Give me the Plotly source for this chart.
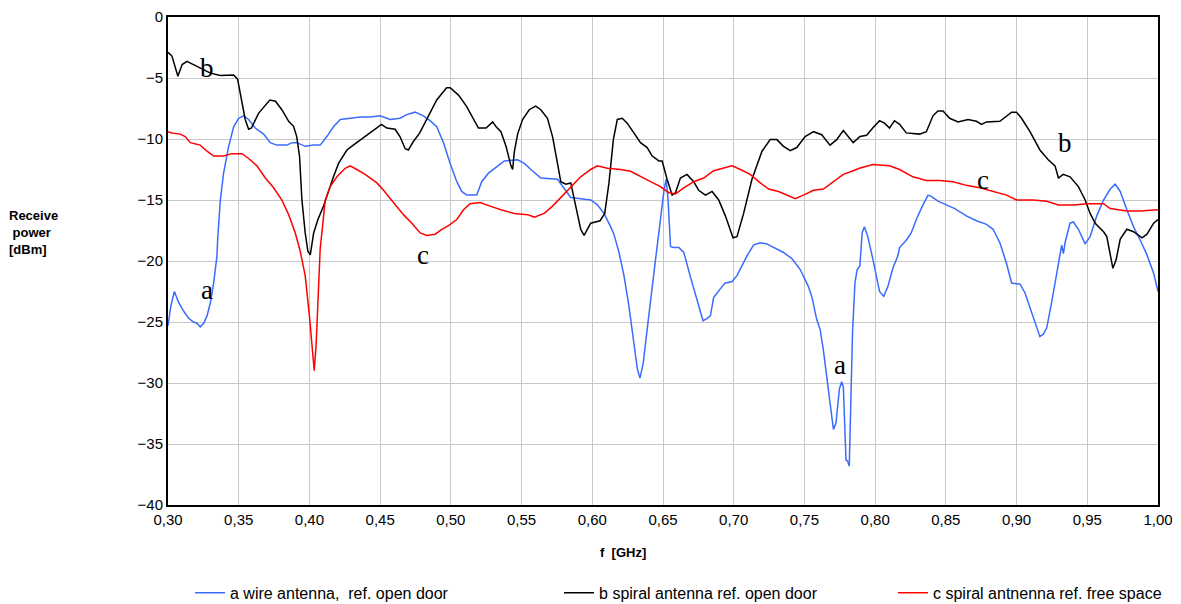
import plotly.graph_objects as go

# ---- data ----
freq_a = [0.300, 0.302, 0.3045, 0.3075, 0.311, 0.3146, 0.318, 0.3205, 0.3228, 0.3252, 0.3276, 0.330, 0.3323,
          0.3346, 0.3351, 0.337, 0.3393, 0.3429, 0.3464, 0.350, 0.3535, 0.357, 0.3617, 0.3676, 0.3723, 0.377,
          0.3841, 0.3876, 0.3911, 0.397, 0.4029, 0.4076, 0.4123, 0.417, 0.4218, 0.4288, 0.4359, 0.443, 0.450,
          0.4571, 0.4641, 0.4688, 0.4747, 0.4806, 0.4853, 0.490, 0.4948, 0.4995, 0.5042, 0.5077, 0.5112, 0.5183,
          0.5218, 0.5266, 0.5313, 0.5378, 0.5472, 0.5519, 0.5566, 0.5636, 0.5754, 0.5801, 0.5848, 0.5918, 0.5989,
          0.6036, 0.6083, 0.613, 0.6153, 0.6189, 0.6224, 0.6259, 0.6294, 0.6318, 0.6337, 0.636, 0.6388, 0.6417,
          0.6447, 0.6482, 0.6506, 0.6522, 0.6536, 0.6553, 0.6576, 0.6612, 0.6647, 0.6694, 0.6741, 0.6783, 0.6811,
          0.6835, 0.6858, 0.6882, 0.6917, 0.694, 0.6987, 0.7023, 0.707, 0.7093, 0.714, 0.7188, 0.7234, 0.7305,
          0.7352, 0.7411, 0.747, 0.7528, 0.7552, 0.7587, 0.7611, 0.7634, 0.7669, 0.7705, 0.7723, 0.7747, 0.7763,
          0.7775, 0.7794, 0.7805, 0.7817, 0.7826, 0.784, 0.7857, 0.7873, 0.7892, 0.7908, 0.7924, 0.7948, 0.7983,
          0.8019, 0.8031, 0.8061, 0.809, 0.8125, 0.816, 0.8173, 0.822, 0.8255, 0.8291, 0.8338, 0.8374, 0.8397,
          0.8444, 0.8504, 0.8563, 0.8645, 0.8716, 0.8787, 0.8834, 0.8882, 0.8929, 0.8965, 0.9024, 0.9059, 0.9095,
          0.913, 0.9165, 0.9189, 0.9213, 0.9248, 0.9284, 0.9307, 0.9319, 0.9331, 0.9343, 0.9378, 0.9402, 0.9437,
          0.9485, 0.952, 0.9567, 0.9615, 0.9662, 0.9697, 0.9733, 0.978, 0.9827, 0.9875, 0.9922, 0.9969, 1.000]
power_a = [-25.3, -23.7, -22.5, -23.4, -24.1, -24.7, -25.0, -25.1, -25.4, -25.1, -24.5, -23.4, -21.8,
           -19.6, -18.3, -15.0, -12.8, -10.6, -9.0, -8.3, -8.1, -8.4, -9.1, -9.6, -10.3, -10.5,
           -10.5, -10.3, -10.3, -10.6, -10.5, -10.5, -9.8, -9.0, -8.4, -8.3, -8.2, -8.2, -8.1,
           -8.4, -8.3, -8.0, -7.8, -8.1, -8.5, -9.0, -10.3, -12.0, -13.5, -14.3, -14.6, -14.6,
           -13.5, -12.8, -12.4, -11.8, -11.7, -12.0, -12.5, -13.2, -13.3, -14.0, -14.8, -14.9, -15.0,
           -15.4, -16.1, -17.2, -17.8, -19.3, -21.2, -23.7, -26.7, -28.8, -29.6, -28.4, -25.6, -22.6,
           -19.9, -16.6, -14.3, -13.3, -15.0, -18.8, -18.9, -18.9, -19.3, -21.3, -23.3, -24.9, -24.7,
           -24.5, -23.0, -22.6, -22.1, -21.8, -21.7, -21.2, -20.1, -19.6, -18.7, -18.5, -18.6, -19.0,
           -19.3, -19.8, -20.7, -22.1, -22.9, -24.8, -25.6, -27.3, -30.5, -33.8, -33.3, -30.5, -29.9,
           -30.3, -36.3, -36.4, -36.8, -32.7, -25.9, -21.8, -20.7, -20.4, -17.7, -17.2, -18.0, -19.8,
           -21.8, -22.5, -22.9, -22.1, -20.6, -19.6, -18.9, -18.3, -17.7, -16.6, -15.4, -14.6, -14.7,
           -15.1, -15.4, -15.7, -16.3, -16.7, -17.0, -17.4, -18.5, -20.2, -21.8, -21.9, -22.6, -23.8,
           -25.1, -26.2, -26.0, -25.5, -23.4, -21.0, -19.2, -18.7, -19.4, -18.5, -16.9, -16.8, -17.4,
           -18.6, -18.0, -16.3, -15.0, -14.1, -13.7, -14.3, -15.8, -17.2, -18.3, -19.5, -21.0, -22.5]

freq_b = [0.300, 0.3028, 0.307, 0.310, 0.3134, 0.318, 0.3228, 0.330, 0.337, 0.3464, 0.3492, 0.352, 0.3546,
          0.357, 0.359, 0.364, 0.372, 0.376, 0.3805, 0.3853, 0.3888, 0.391, 0.393, 0.3947, 0.397, 0.3989,
          0.4006, 0.403, 0.406, 0.410, 0.4135, 0.417, 0.4206, 0.4265, 0.431, 0.438, 0.445, 0.451, 0.4547,
          0.4606, 0.464, 0.4677, 0.470, 0.4735, 0.478, 0.484, 0.490, 0.497, 0.4995, 0.5054, 0.511, 0.5195,
          0.5249, 0.5296, 0.532, 0.5354, 0.539, 0.5425, 0.5437, 0.5448, 0.5472, 0.5507, 0.5554, 0.560,
          0.5636, 0.5683, 0.5719, 0.5754, 0.5777, 0.5813, 0.5848, 0.5883, 0.5918, 0.5942, 0.5989, 0.6055,
          0.6088, 0.6118, 0.6149, 0.6177, 0.6212, 0.6247, 0.6294, 0.6341, 0.6388, 0.6424, 0.6471, 0.6494,
          0.6529, 0.6565, 0.6588, 0.6623, 0.667, 0.6717, 0.6752, 0.680, 0.6847, 0.6894, 0.6941, 0.6995,
          0.7023, 0.707, 0.7129, 0.720, 0.7258, 0.7305, 0.7352, 0.740, 0.7446, 0.7505, 0.7564, 0.7622,
          0.7681, 0.7728, 0.7775, 0.781, 0.7845, 0.7893, 0.794, 0.7983, 0.8031, 0.8066, 0.8102, 0.8137,
          0.8173, 0.822, 0.8314, 0.8362, 0.8409, 0.8444, 0.848, 0.8527, 0.8586, 0.8657, 0.8716, 0.8752,
          0.8787, 0.8882, 0.8929, 0.8965, 0.900, 0.9035, 0.9095, 0.9165, 0.9224, 0.9272, 0.9296, 0.933,
          0.9378, 0.9437, 0.9485, 0.952, 0.9556, 0.9615, 0.9638, 0.9662, 0.9681, 0.9704, 0.9733, 0.978,
          0.9827, 0.9887, 0.9922, 0.9969, 1.000]
power_b = [-2.9, -3.2, -4.86, -3.9, -3.63, -3.9, -4.2, -4.6, -4.8, -4.75, -5.1, -6.8, -8.4,
           -9.2, -9.1, -7.9, -6.8, -6.9, -7.6, -8.55, -8.96, -9.8, -11.4, -15.0, -17.7, -19.2,
           -19.5, -17.7, -16.6, -15.5, -14.2, -13.1, -12.0, -10.9, -10.5, -9.9, -9.3, -8.8, -9.1,
           -9.2, -9.8, -10.8, -10.9, -10.2, -9.5, -8.1, -6.8, -5.8, -5.8, -6.4, -7.3, -9.1,
           -9.1, -8.6, -9.0, -9.4, -10.6, -12.2, -12.5, -11.1, -9.6, -8.4, -7.6, -7.3,
           -7.6, -8.3, -9.8, -12.0, -13.5, -13.7, -13.6, -15.5, -17.4, -17.9, -16.9, -16.7,
           -16.1, -13.6, -10.05, -8.4, -8.3, -8.7, -9.5, -10.3, -10.7, -11.4, -11.8, -11.8,
           -13.3, -14.6, -14.4, -13.2, -12.9, -13.5, -14.2, -14.6, -14.3, -15.0, -16.3, -18.1,
           -18.0, -16.1, -13.3, -11.0, -10.05, -10.05, -10.6, -10.96, -10.7, -9.8, -9.4, -9.65,
           -10.5, -10.05, -9.3, -9.8, -10.3, -9.8, -9.7, -9.1, -8.5, -8.7, -9.1, -8.5,
           -8.8, -9.5, -9.6, -9.4, -8.1, -7.7, -7.7, -8.3, -8.6, -8.4, -8.55, -8.8,
           -8.6, -8.55, -8.1, -7.8, -7.8, -8.3, -9.4, -10.9, -11.7, -12.2, -13.2, -12.9,
           -13.1, -13.9, -15.0, -16.1, -16.9, -17.6, -18.0, -19.6, -20.6, -19.9, -18.2, -17.4,
           -17.6, -18.1, -17.8, -16.9, -16.6]

freq_c = [0.300, 0.3028, 0.3087, 0.3122, 0.3158, 0.3228, 0.3276, 0.3323, 0.3393, 0.3452, 0.3523, 0.357,
          0.3629, 0.3688, 0.3747, 0.3805, 0.3853, 0.390, 0.3935, 0.397, 0.400, 0.402, 0.4034, 0.4048, 0.4064,
          0.4076, 0.4088, 0.4112, 0.4147, 0.4194, 0.4253, 0.4288, 0.4335, 0.4394, 0.4477, 0.4524, 0.4594,
          0.4665, 0.4724, 0.4783, 0.483, 0.4889, 0.4936, 0.4983, 0.5042, 0.5089, 0.5136, 0.5207, 0.5278,
          0.5354, 0.5448, 0.5542, 0.559, 0.566, 0.5719, 0.5777, 0.5848, 0.5918, 0.5989, 0.6036, 0.6106,
          0.620, 0.6271, 0.6341, 0.6412, 0.6482, 0.6541, 0.6588, 0.6647, 0.6717, 0.6788, 0.6858, 0.6929,
          0.6988, 0.7047, 0.7117, 0.7188, 0.7247, 0.7317, 0.7376, 0.7435, 0.7493, 0.7564, 0.7634, 0.7705,
          0.7775, 0.7845, 0.7889, 0.7983, 0.8102, 0.8173, 0.8267, 0.8362, 0.8456, 0.8551, 0.8645, 0.874,
          0.8834, 0.8929, 0.900, 0.9118, 0.9213, 0.9296, 0.9402, 0.9497, 0.9615, 0.9662, 0.978, 0.9875, 1.000]
power_c = [-9.4, -9.5, -9.6, -9.8, -10.3, -10.5, -11.0, -11.4, -11.4, -11.2, -11.2, -11.6,
           -12.2, -13.2, -14.0, -15.0, -16.2, -17.7, -19.2, -21.2, -24.5, -27.3, -29.0, -26.7, -22.3,
           -19.0, -17.7, -15.0, -13.9, -13.1, -12.4, -12.2, -12.5, -12.9, -13.6, -14.2, -15.2,
           -16.2, -16.9, -17.7, -17.9, -17.8, -17.4, -17.1, -16.6, -15.8, -15.3, -15.2, -15.5,
           -15.8, -16.1, -16.2, -16.4, -16.1, -15.5, -14.8, -14.0, -13.1, -12.5, -12.2, -12.4,
           -12.5, -12.65, -13.1, -13.5, -13.9, -14.4, -14.5, -14.0, -13.5, -13.2, -12.6, -12.4,
           -12.2, -12.5, -12.9, -13.6, -14.1, -14.3, -14.6, -14.9, -14.6, -14.2, -14.1, -13.5,
           -12.9, -12.6, -12.4, -12.1, -12.2, -12.5, -13.1, -13.4, -13.4, -13.5, -13.8, -14.0,
           -14.3, -14.6, -15.0, -15.0, -15.1, -15.4, -15.4, -15.3, -15.3, -15.7, -15.9, -15.9, -15.8]

series_names = ["a wire antenna,&nbsp; ref. open door",
                "b spiral antenna ref. open door",
                "c spiral antnenna ref. free space"]

label_text = ["b", "a", "c", "a", "b", "c"]
label_f = [0.3276, 0.3276, 0.4803, 0.775, 0.934, 0.876]
label_p = [-4.2, -22.4, -19.5, -28.5, -10.3, -13.4]

x_ticks = [0.30, 0.35, 0.40, 0.45, 0.50, 0.55, 0.60, 0.65, 0.70, 0.75, 0.80, 0.85, 0.90, 0.95, 1.00]
y_ticks = [0, -5, -10, -15, -20, -25, -30, -35, -40]

# ---- figure ----
fig = go.Figure()
legend_ids = ["legend", "legend2", "legend3"]
for fx, py, nm, col, lg in [(freq_a, power_a, series_names[0], "#3A6BFF", legend_ids[0]),
                            (freq_b, power_b, series_names[1], "#000000", legend_ids[1]),
                            (freq_c, power_c, series_names[2], "#FF0000", legend_ids[2])]:
    fig.add_trace(go.Scatter(x=fx, y=py, mode="lines", name=nm, legend=lg,
                             line=dict(color=col, width=1.5)))

for t, fx, py in zip(label_text, label_f, label_p):
    fig.add_annotation(x=fx, y=py, text=t, showarrow=False,
                       font=dict(family="Liberation Serif, Times New Roman, serif", size=27, color="#000"))

fig.add_annotation(xref="paper", yref="paper", x=-0.163, y=0.559, xanchor="left", yanchor="middle",
                   text="<b>Receive</b><br><b> power</b><br><b>[dBm]</b>", showarrow=False, align="left",
                   font=dict(family="Liberation Sans, Arial, sans-serif", size=13, color="#000"))
fig.add_annotation(xref="paper", yref="paper", x=0.4596, y=-0.098, xanchor="center", yanchor="middle",
                   text="<b>f  [GHz]</b>", showarrow=False,
                   font=dict(family="Liberation Sans, Arial, sans-serif", size=13, color="#000"))

leg_common = dict(orientation="h", y=-0.18, xanchor="left", yanchor="middle",
                  font=dict(size=16, color="#000"), bgcolor="rgba(0,0,0,0)")
fig.update_layout(
    width=1181, height=604,
    margin=dict(l=168, r=23, t=17, b=99, autoexpand=False),
    paper_bgcolor="white", plot_bgcolor="white",
    separators=",.",
    font=dict(family="Liberation Sans, Arial, sans-serif", size=15, color="#000"),
    showlegend=True,
    legend=dict(x=0.0222, **leg_common),
    legend2=dict(x=0.395, **leg_common),
    legend3=dict(x=0.7323, **leg_common),
)
fig.update_xaxes(range=[0.30, 1.00], tickvals=x_ticks, tickformat=".2f",
                 showgrid=True, gridcolor="#c8c8c8", gridwidth=1,
                 showline=True, linecolor="#000", linewidth=2, mirror=True,
                 ticks="", zeroline=False)
fig.update_yaxes(range=[-40, 0], tickvals=y_ticks,
                 showgrid=True, gridcolor="#c8c8c8", gridwidth=1,
                 showline=True, linecolor="#000", linewidth=2, mirror=True,
                 ticks="", zeroline=False)

fig.write_html("out.html", config={"displayModeBar": False},
               post_script="document.body.style.margin='0';document.body.style.overflow='hidden';")
